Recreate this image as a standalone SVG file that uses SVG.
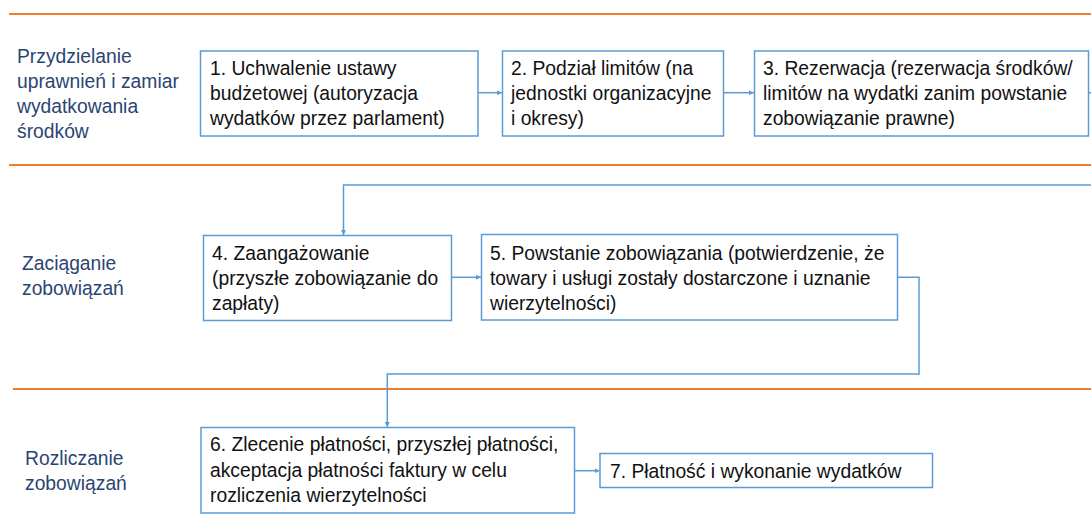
<svg xmlns="http://www.w3.org/2000/svg" width="1091" height="529" viewBox="0 0 1091 529">
  <style>
    .lane { stroke: #ED7D31; stroke-width: 2; fill: none; }
    .box { fill: #FFFFFF; stroke: #5B9BD5; stroke-width: 1.5; }
    .txt { font-family: "Liberation Sans", Arial, sans-serif; font-size: 19.3px; fill: #111111; }
    .lbl { font-family: "Liberation Sans", Arial, sans-serif; font-size: 19.3px; fill: #2B4573; }
    .conn { stroke: #5B9BD5; stroke-width: 1.5; fill: none; marker-end: url(#arrow); }
  </style>
  <defs>
    <marker id="arrow" viewBox="0 0 10 10" refX="10" refY="5" markerWidth="5" markerHeight="5" orient="auto" markerUnits="userSpaceOnUse">
      <path d="M0,0 L10,5 L0,10 z" fill="#5B9BD5"/>
    </marker>
  </defs>

  <rect width="1091" height="529" fill="#FFFFFF"/>

  <!-- swimlane separators -->
  <g id="lanes">
    <line class="lane" x1="9" y1="14" x2="1091" y2="14"/>
    <line class="lane" x1="9" y1="165" x2="1091" y2="165"/>
    <line class="lane" x1="13" y1="389" x2="1091" y2="389"/>
  </g>

  <!-- lane titles -->
  <g id="lane-1">
    <text class="lbl" x="17" y="62.5">Przydzielanie</text>
    <text class="lbl" x="17" y="88">uprawnień i zamiar</text>
    <text class="lbl" x="17" y="113">wydatkowania</text>
    <text class="lbl" x="17" y="138">środków</text>
  </g>
  <g id="lane-2">
    <text class="lbl" x="22" y="270">Zaciąganie</text>
    <text class="lbl" x="22" y="295">zobowiązań</text>
  </g>
  <g id="lane-3">
    <text class="lbl" x="25" y="465">Rozliczanie</text>
    <text class="lbl" x="25" y="490">zobowiązań</text>
  </g>

  <!-- connectors -->
  <g id="connectors">
    <line class="conn" x1="478" y1="92.7" x2="502" y2="92.7"/>
    <line class="conn" x1="723.5" y1="92.7" x2="754" y2="92.7"/>
    <path class="conn" d="M1088.5,92.7 H1100 V185 H343.5 V235"/>
    <line class="conn" x1="451.5" y1="277.3" x2="481" y2="277.3"/>
    <path class="conn" d="M897.5,277.3 H919 V374 H387.3 V427"/>
    <line class="conn" x1="574.5" y1="470.7" x2="599.5" y2="470.7"/>
  </g>

  <!-- process steps -->
  <g id="step-1">
    <rect class="box" x="200.5" y="51" width="277.5" height="85"/>
    <text class="txt" x="210" y="74.5">1. Uchwalenie ustawy</text>
    <text class="txt" x="210" y="99.5">budżetowej (autoryzacja</text>
    <text class="txt" x="210" y="124.5">wydatków przez parlament)</text>
  </g>
  <g id="step-2">
    <rect class="box" x="502.5" y="51" width="221" height="85"/>
    <text class="txt" x="511" y="74.5">2. Podział limitów (na</text>
    <text class="txt" x="511" y="99.5">jednostki organizacyjne</text>
    <text class="txt" x="511" y="124.5">i okresy)</text>
  </g>
  <g id="step-3">
    <rect class="box" x="754.5" y="51" width="334" height="85"/>
    <text class="txt" x="763" y="74.5">3. Rezerwacja (rezerwacja środków/</text>
    <text class="txt" x="763" y="99.5">limitów na wydatki zanim powstanie</text>
    <text class="txt" x="763" y="124.5">zobowiązanie prawne)</text>
  </g>
  <g id="step-4">
    <rect class="box" x="203.5" y="235.5" width="248" height="85"/>
    <text class="txt" x="212" y="260">4. Zaangażowanie</text>
    <text class="txt" x="212" y="285">(przyszłe zobowiązanie do</text>
    <text class="txt" x="212" y="310">zapłaty)</text>
  </g>
  <g id="step-5">
    <rect class="box" x="481.5" y="234.5" width="416" height="85.5"/>
    <text class="txt" x="490" y="260">5. Powstanie zobowiązania (potwierdzenie, że</text>
    <text class="txt" x="490" y="285">towary i usługi zostały dostarczone i uznanie</text>
    <text class="txt" x="490" y="310">wierzytelności)</text>
  </g>
  <g id="step-6">
    <rect class="box" x="201" y="427.5" width="373.5" height="85.5"/>
    <text class="txt" x="210" y="451">6. Zlecenie płatności, przyszłej płatności,</text>
    <text class="txt" x="210" y="476.5">akceptacja płatności faktury w celu</text>
    <text class="txt" x="210" y="502">rozliczenia wierzytelności</text>
  </g>
  <g id="step-7">
    <rect class="box" x="600" y="453.5" width="332.5" height="34"/>
    <text class="txt" x="610" y="477.5">7. Płatność i wykonanie wydatków</text>
  </g>
</svg>
